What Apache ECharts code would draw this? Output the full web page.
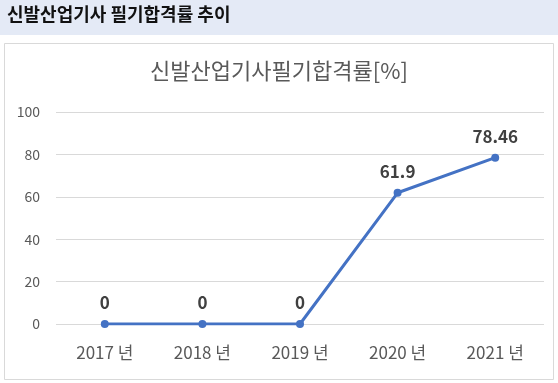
<!DOCTYPE html>
<html><head><meta charset="utf-8">
<script src="https://cdn.jsdelivr.net/npm/echarts@6/dist/echarts.min.js"></script>
<style>html,body{margin:0;padding:0;background:#fff}#c{width:558px;height:383px}</style>
</head><body><div id="c"></div>
<script>
const categories = ['2017 년', '2018 년', '2019 년', '2020 년', '2021 년'];
const passRate = [0, 0, 0, 61.9, 78.46];
const yTicks = [0, 20, 40, 60, 80, 100];
const headerText = '신발산업기사 필기합격률 추이';
const chartTitle = '신발산업기사필기합격률[%]';

const chart = echarts.init(document.getElementById('c'));
const font = '"Noto Sans CJK KR", "Noto Sans", sans-serif';
chart.setOption({
  animation: false,
  backgroundColor: '#fff',
  graphic: [
    { type: 'rect', shape: { x: 0, y: 0, width: 558, height: 35 }, style: { fill: '#e4eaf6' }, z: -1 },
    { type: 'text', left: 7, top: 5, style: { text: headerText, font: 'bold 18px ' + font, fill: '#111' } },
    { type: 'rect', shape: { x: 4.5, y: 43.5, width: 549, height: 336 }, style: { fill: 'none', stroke: '#d9d9d9', lineWidth: 1 }, z: -1 }
  ],
  title: {
    text: chartTitle, left: 'center', top: 55,
    textStyle: { fontFamily: font, fontSize: 22, fontWeight: 'normal', color: '#595959' }
  },
  grid: { left: 56, right: 14, top: 112, bottom: 59 },
  xAxis: {
    type: 'category', data: categories, boundaryGap: true,
    axisLine: { show: false }, axisTick: { show: false },
    axisLabel: { fontFamily: font, fontSize: 17, color: '#595959', margin: 20 }
  },
  yAxis: {
    type: 'value', min: yTicks[0], max: yTicks[yTicks.length - 1], interval: 20,
    axisLine: { show: false }, axisTick: { show: false },
    axisLabel: { fontFamily: font, fontSize: 14, color: '#595959', margin: 16 },
    splitLine: { lineStyle: { color: '#d9d9d9', width: 1 } }
  },
  series: [{
    type: 'line', data: passRate,
    lineStyle: { color: '#4472c4', width: 3 },
    itemStyle: { color: '#4472c4' },
    symbol: 'circle', symbolSize: 8,
    label: { show: true, position: 'top', distance: 9, fontFamily: font, fontSize: 17, fontWeight: 'bold', color: '#404040' }
  }]
});
</script></body></html>
